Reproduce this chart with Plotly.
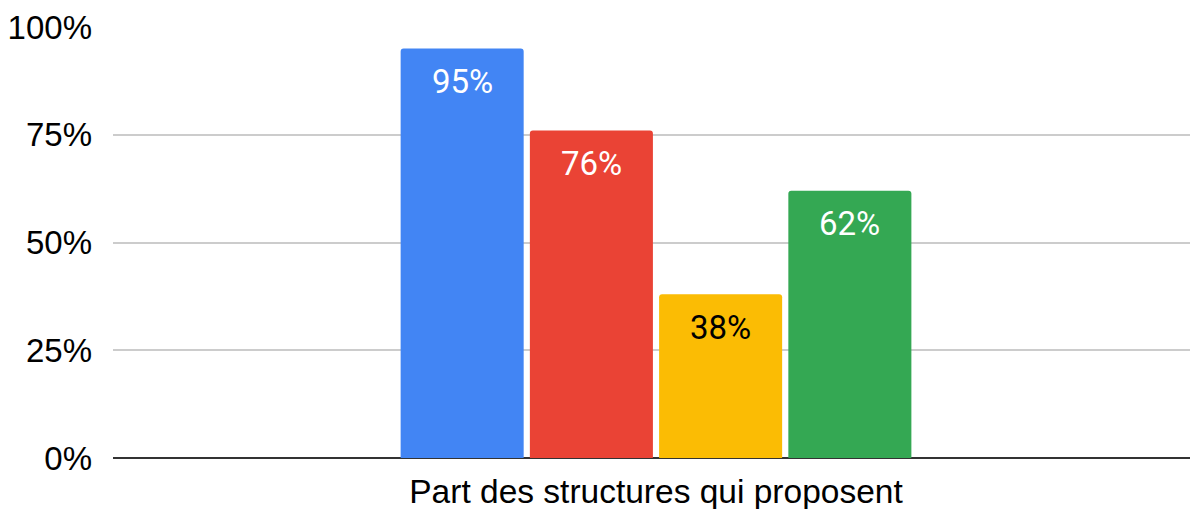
import plotly.graph_objects as go

category = ["Part des structures qui proposent"]
series_names = ["Série 1", "Série 2", "Série 3", "Série 4"]
values = [95, 76, 38, 62]
colors = ["#4285F4", "#EA4335", "#FBBC04", "#34A853"]
label_colors = ["#FFFFFF", "#FFFFFF", "#000000", "#FFFFFF"]
y_ticks = [0, 25, 50, 75, 100]
y_ticktext = [f"{t}%" for t in y_ticks]

bargap = 0.524
n = len(values)
slot = (1 - bargap) / n

fig = go.Figure()
for name, v, c in zip(series_names, values, colors):
    fig.add_trace(go.Bar(
        x=category, y=[v], name=name,
        marker=dict(color=c, line=dict(width=0), cornerradius=3),
        hoverinfo="y",
    ))

for i, (v, lc) in enumerate(zip(values, label_colors)):
    fig.add_annotation(
        x=(i - (n - 1) / 2) * slot, y=v, xref="x", yref="y",
        text=f"{v}%", showarrow=False, yanchor="middle", yshift=-33,
        font=dict(family="Roboto, Arial, sans-serif", size=33, color=lc),
    )

fig.update_layout(
    width=1190, height=509,
    margin=dict(l=113, r=0, t=27, b=51, autoexpand=False),
    paper_bgcolor="white", plot_bgcolor="white",
    barmode="group", bargap=bargap, bargroupgap=0.048,
    showlegend=False,
    font=dict(family="Liberation Sans, Arial, sans-serif", size=32, color="#000000"),
)
fig.update_xaxes(
    type="category", range=[-0.5, 0.4917], automargin=False,
    showgrid=False, showline=False, zeroline=False,
    tickfont=dict(size=33.5, color="#000000"), ticklabelstandoff=10,
)
fig.update_yaxes(
    range=[0, 100], tickvals=y_ticks, ticktext=y_ticktext, automargin=False,
    showgrid=True, gridcolor="#CCCCCC", gridwidth=2,
    zeroline=True, zerolinecolor="#333333", zerolinewidth=2,
    showline=False, ticklabelstandoff=20,
    tickfont=dict(size=33, color="#000000"),
)

fig.write_html(
    "out.html",
    config={"displayModeBar": False},
    post_script="document.body.style.margin='0';document.body.style.overflow='hidden';",
)
